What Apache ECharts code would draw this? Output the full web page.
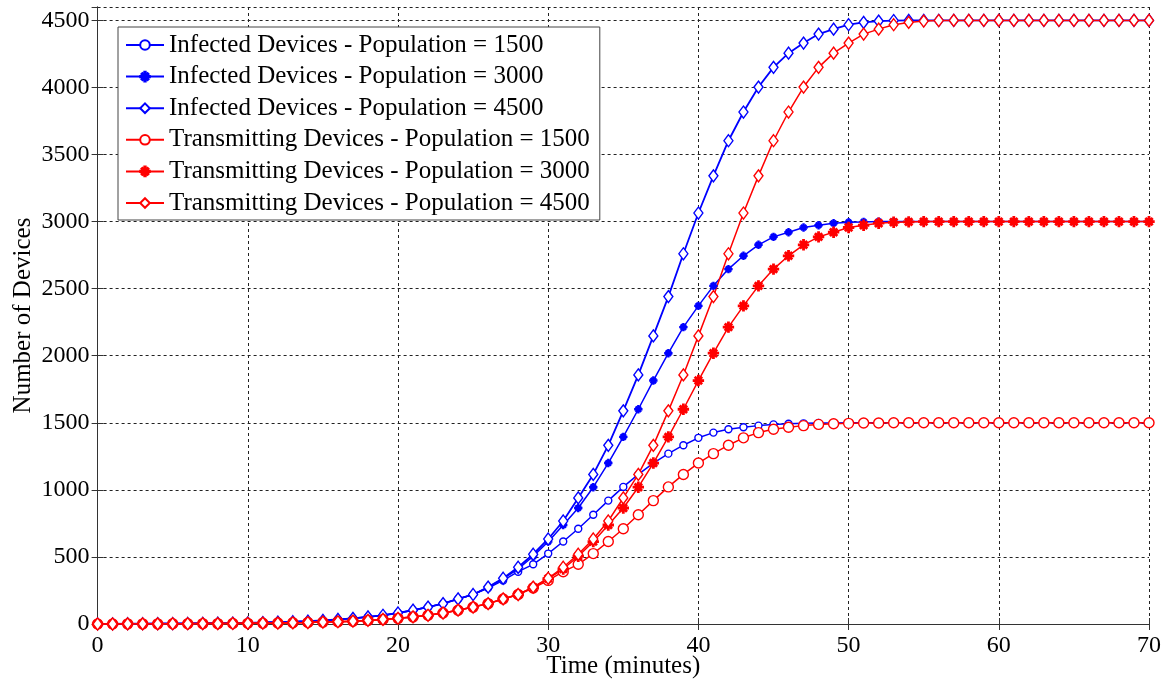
<!DOCTYPE html>
<html>
<head>
<meta charset="utf-8">
<script src="https://cdn.jsdelivr.net/npm/echarts@6/dist/echarts.min.js"></script>
<style>
html,body{margin:0;padding:0;background:#fff;}
#chart{width:1170px;height:683px;}
</style>
</head>
<body>
<div id="chart"></div>
<script>
const minutes = [0,1,2,3,4,5,6,7,8,9,10,11,12,13,14,15,16,17,18,19,20,21,22,23,24,25,26,27,28,29,30,31,32,33,34,35,36,37,38,39,40,41,42,43,44,45,46,47,48,49,50,51,52,53,54,55,56,57,58,59,60,61,62,63,64,65,66,67,68,69,70];

const infected1500 = [1,1,2,2,3,3,4,5,6,7,9,11,14,17,21,27,34,42,53,65,82,103,126,152,187,220,268,325,390,445,525,615,710,815,920,1022,1115,1200,1270,1333,1388,1427,1452,1467,1479,1488,1493,1496,1498,1499,1500,1500,1500,1500,1500,1500,1500,1500,1500,1500,1500,1500,1500,1500,1500,1500,1500,1500,1500,1500,1500];
const infected3000 = [1,1,2,2,3,3,4,5,6,7,9,11,14,17,21,27,34,42,53,65,82,103,126,152,187,220,272,338,410,505,614,738,865,1020,1200,1395,1601,1815,2019,2213,2372,2521,2646,2745,2827,2886,2921,2956,2973,2988,2995,2998,3000,3000,3000,3000,3000,3000,3000,3000,3000,3000,3000,3000,3000,3000,3000,3000,3000,3000,3000];
const infected4500 = [1,1,2,2,3,3,4,5,6,7,9,11,14,17,21,27,34,42,53,65,82,103,126,152,187,220,275,341,423,520,634,768,940,1115,1332,1589,1857,2148,2441,2760,3064,3341,3603,3817,4003,4150,4256,4331,4398,4435,4468,4485,4495,4499,4500,4500,4500,4500,4500,4500,4500,4500,4500,4500,4500,4500,4500,4500,4500,4500,4500];
const transmitting1500 = [0,0,1,1,1,2,2,3,3,4,5,6,7,9,11,14,17,21,27,34,42,53,65,82,103,126,152,187,220,268,325,390,445,525,615,710,815,920,1022,1115,1200,1270,1333,1388,1427,1452,1467,1479,1488,1493,1496,1498,1499,1500,1500,1500,1500,1500,1500,1500,1500,1500,1500,1500,1500,1500,1500,1500,1500,1500,1500];
const transmitting3000 = [0,0,1,1,1,2,2,3,3,4,5,6,7,9,11,14,17,21,27,34,42,53,65,82,103,126,152,187,220,272,338,410,505,614,738,865,1020,1200,1395,1601,1815,2019,2213,2372,2521,2646,2745,2827,2886,2921,2956,2973,2988,2995,2998,3000,3000,3000,3000,3000,3000,3000,3000,3000,3000,3000,3000,3000,3000,3000,3000];
const transmitting4500 = [0,0,1,1,1,2,2,3,3,4,5,6,7,9,11,14,17,21,27,34,42,53,65,82,103,126,152,187,220,275,341,423,520,634,768,940,1115,1332,1589,1857,2148,2441,2760,3064,3341,3603,3817,4003,4150,4256,4331,4398,4435,4468,4485,4495,4499,4500,4500,4500,4500,4500,4500,4500,4500,4500,4500,4500,4500,4500,4500];

const seriesNames = [
  'Infected Devices - Population = 1500',
  'Infected Devices - Population = 3000',
  'Infected Devices - Population = 4500',
  'Transmitting Devices - Population = 1500',
  'Transmitting Devices - Population = 3000',
  'Transmitting Devices - Population = 4500'
];
const xTicks = [0, 70, 10];
const yTicks = [0, 4600, 500];

const FONT = '"Liberation Serif", "Times New Roman", serif';
const BLUE = '#0000ff', RED = '#ff0000';
const ASTERISK = 'path://M4.3 0L5.7 0L5.7 10L4.3 10Z M0 4.3L10 4.3L10 5.7L0 5.7Z M1.3 2.3L2.3 1.3L8.7 7.7L7.7 8.7Z M2.3 8.7L1.3 7.7L7.7 1.3L8.7 2.3Z';

function pairs(vals){ return minutes.map((m,i)=>[m, vals[i]]); }

function mk(name, vals, color, symbol, size, filled, lw){
  return {
    name: name, type: 'line', data: pairs(vals),
    symbol: symbol, symbolSize: size, showSymbol: true, showAllSymbol: true,
    lineStyle: {color: color, width: lw},
    itemStyle: {color: filled ? color : '#ffffff', borderColor: color, borderWidth: 1.4},
    emphasis: {disabled: true},
    z: 3
  };
}

const chart = echarts.init(document.getElementById('chart'), null, {renderer: 'canvas'});
chart.setOption({
  animation: false,
  backgroundColor: '#fff',
  grid: {left: 97.6, right: 21, top: 7, bottom: 59, containLabel: false, outerBoundsMode: 'none'},
  legend: {
    orient: 'vertical', left: 118, top: 27,
    padding: [5, 10, 4, 7],
    itemWidth: 38, itemHeight: 12, itemGap: 5.6,
    backgroundColor: '#fff', borderColor: '#444', borderWidth: 1,
    textStyle: {fontFamily: FONT, fontSize: 25, color: '#000', lineHeight: 26},
    data: seriesNames
  },
  xAxis: [{
    type: 'value', min: xTicks[0], max: xTicks[1], interval: xTicks[2],
    name: 'Time (minutes)', nameLocation: 'middle', nameGap: 30, nameMoveOverlap: false,
    nameTextStyle: {fontFamily: FONT, fontSize: 25, color: '#000', verticalAlign: 'top'},
    axisLine: {show: true, onZero: false, lineStyle: {color: '#333'}},
    axisTick: {show: true, inside: true, length: 6, lineStyle: {color: '#333'}},
    axisLabel: {fontFamily: FONT, fontSize: 24, color: '#000', margin: 10},
    splitLine: {show: true, lineStyle: {color: '#222', type: [3, 3], width: 1}}
  }, {
    type: 'value', position: 'top', min: xTicks[0], max: xTicks[1], interval: xTicks[2],
    axisLine: {show: true, lineStyle: {color: '#333'}},
    axisTick: {show: true, inside: true, length: 6, lineStyle: {color: '#333'}},
    axisLabel: {show: false}, splitLine: {show: false}
  }],
  yAxis: [{
    type: 'value', min: yTicks[0], max: yTicks[1], interval: yTicks[2],
    name: 'Number of Devices', nameLocation: 'middle', nameGap: 62, nameMoveOverlap: false,
    nameTextStyle: {fontFamily: FONT, fontSize: 25, color: '#000'},
    axisLine: {show: true, onZero: false, lineStyle: {color: '#333'}},
    axisTick: {show: true, inside: true, length: 6, lineStyle: {color: '#333'}},
    axisLabel: {fontFamily: FONT, fontSize: 24, color: '#000', margin: 8, showMaxLabel: false,
                formatter: function (v) { return String(v); }},
    splitLine: {show: true, lineStyle: {color: '#222', type: [3, 3], width: 1}}
  }, {
    type: 'value', position: 'right', min: yTicks[0], max: yTicks[1], interval: yTicks[2],
    axisLine: {show: true, lineStyle: {color: '#333'}},
    axisTick: {show: true, inside: true, length: 6, lineStyle: {color: '#333'}},
    axisLabel: {show: false}, splitLine: {show: false}
  }],
  series: [
    mk(seriesNames[0], infected1500, BLUE, 'circle', 7, false, 1.5),
    mk(seriesNames[1], infected3000, BLUE, ASTERISK, 7, true, 1.5),
    mk(seriesNames[2], infected4500, BLUE, 'diamond', [9, 12], false, 1.8),
    mk(seriesNames[3], transmitting1500, RED, 'circle', 10, false, 1.5),
    mk(seriesNames[4], transmitting3000, RED, ASTERISK, 10, true, 1.5),
    mk(seriesNames[5], transmitting4500, RED, 'diamond', [9, 12], false, 1.5)
  ]
});
</script>
</body>
</html>
